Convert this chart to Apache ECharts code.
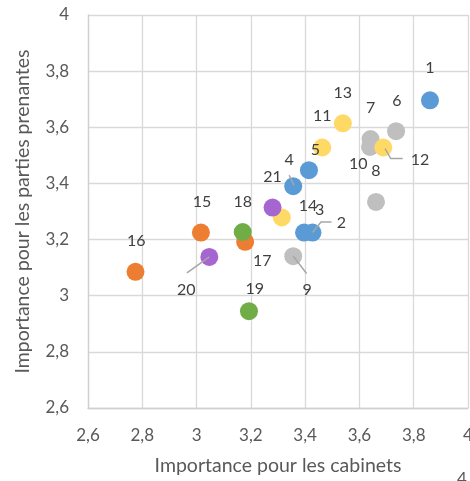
<!DOCTYPE html>
<html>
<head>
<meta charset="utf-8">
<script src="https://cdn.jsdelivr.net/npm/echarts@6/dist/echarts.min.js"></script>
<style>
  html, body { margin: 0; padding: 0; background: #ffffff; }
  #chart { width: 470px; height: 481px; }
</style>
</head>
<body>
<div id="chart"></div>
<script>
// Item numbers shown next to each marker
const itemNumbers = ['1','2','3','4','5','6','7','8','9','10','11','12','13','14','15','16','17','18','19','20','21'];

// Importance scores (x: firms, y: stakeholders)
const cabinets = [3.860, 3.427, 3.396, 3.356, 3.414, 3.735, 3.641, 3.661, 3.356, 3.639,
                  3.463, 3.688, 3.539, 3.314, 3.016, 2.775, 3.179, 3.170, 3.193, 3.047, 3.280];
const partiesPrenantes = [3.696, 3.225, 3.225, 3.390, 3.447, 3.586, 3.558, 3.334, 3.141, 3.530,
                          3.528, 3.528, 3.614, 3.279, 3.225, 3.085, 3.192, 3.227, 2.945, 3.138, 3.314];

// Item numbers belonging to each colour group
const groupBlue   = [1, 2, 3, 4, 5];
const groupGray   = [6, 7, 8, 9, 10];
const groupYellow = [11, 12, 13, 14];
const groupOrange = [15, 16, 17];
const groupGreen  = [18, 19];
const groupPurple = [20, 21];

// Axis ticks
const axisTicks = [2.6, 2.8, 3.0, 3.2, 3.4, 3.6, 3.8, 4.0];

const xTitle = 'Importance pour les cabinets';
const yTitle = 'Importance pour les parties prenantes';

// ---- presentation ----
const FONT = 'Lato, "Open Sans", sans-serif';
const groups = [
  { members: groupBlue,   color: '#5B9BD5' },
  { members: groupGray,   color: '#BFBFBF' },
  { members: groupYellow, color: '#FFD966' },
  { members: groupOrange, color: '#ED7D31' },
  { members: groupGreen,  color: '#70AD47' },
  { members: groupPurple, color: '#A566D1' }
];

// Label placement: offset of the label centre from the marker centre (px)
const labelOffset = {
  1: [0, -32], 2: [29, -10], 3: [15.7, -22.3], 4: [-4, -26], 5: [6.5, -20],
  6: [0.7, -30.3], 7: [0, -31.7], 8: [0, -31], 9: [14, 34], 10: [-11.7, 16.6],
  11: [0, -31.6], 12: [36.7, 12], 13: [0, -30.6], 14: [26.3, -11.3], 15: [1, -30.6],
  16: [0.7, -31], 17: [17, 19.3], 18: [0, -30], 19: [5.7, -22.7], 20: [-23, 33.3], 21: [0, -30.6]
};

// Leader lines, as polylines relative to the marker centre (px)
const leaderPaths = {
  12: [[1.7, 1], [7.4, 11], [19.4, 11]],
  4:  [[-4, -11], [0.7, -1]],
  2:  [[0, 0], [8.5, -10.5], [19, -10.5]],
  20: [[0, 0], [-22.4, 16]],
  9:  [[0, 0], [13.4, 17.3]]
};

const fmt = v => String(Math.round(v * 10) / 10).replace('.', ',');

const series = groups.map(g => ({
  type: 'scatter',
  symbol: 'circle',
  symbolSize: 18,
  itemStyle: { color: g.color, opacity: 1 },
  emphasis: { disabled: true },
  data: g.members.map(n => {
    const i = n - 1;
    return {
      value: [cabinets[i], partiesPrenantes[i]],
      label: {
        show: true,
        formatter: itemNumbers[i],
        position: 'inside',
        offset: labelOffset[n],
        align: 'center',
        verticalAlign: 'middle',
        color: '#404040',
        fontFamily: FONT,
        fontSize: 16
      }
    };
  })
}));

const chart = echarts.init(document.getElementById('chart'), null, { renderer: 'canvas' });

const axisCommon = {
  type: 'value',
  min: axisTicks[0],
  max: axisTicks[axisTicks.length - 1],
  interval: 0.2,
  nameLocation: 'middle',
  nameTextStyle: { fontFamily: FONT, fontSize: 19.5, color: '#595959' },
  axisTick: { show: false },
  axisLine: { show: true, onZero: false, lineStyle: { color: '#D0D0D0', width: 1.3 } },
  splitLine: { show: true, lineStyle: { color: '#D9D9D9', width: 1.3 } },
  axisLabel: { formatter: fmt, fontFamily: FONT, fontSize: 17, color: '#595959', margin: 19 }
};

chart.setOption({
  animation: false,
  backgroundColor: '#ffffff',
  grid: { left: 88, right: 2, top: 15, bottom: 73, containLabel: false, outerBoundsMode: 'none' },
  xAxis: Object.assign({}, axisCommon, { name: xTitle, nameGap: 48 }),
  yAxis: Object.assign({}, axisCommon, { name: yTitle, nameGap: 55 }),
  series: series
});

// Leader lines from each displaced label back to its marker
function drawLeaders() {
  const elements = [];
  Object.keys(leaderPaths).forEach(k => {
    const i = Number(k) - 1;
    const c = chart.convertToPixel({ gridIndex: 0 }, [cabinets[i], partiesPrenantes[i]]);
    elements.push({
      type: 'polyline',
      z: 50,
      silent: true,
      shape: { points: leaderPaths[k].map(p => [c[0] + p[0], c[1] + p[1]]) },
      style: { stroke: '#A6A6A6', lineWidth: 1.5, fill: null }
    });
  });
  // page number peeking in at the bottom-right corner
  elements.push({
    type: 'text', z: 50, silent: true, left: 457, top: 471,
    style: { text: '4', fontFamily: FONT, fontSize: 17, fill: '#595959' }
  });
  chart.setOption({ graphic: elements });
}
drawLeaders();
</script>
</body>
</html>
